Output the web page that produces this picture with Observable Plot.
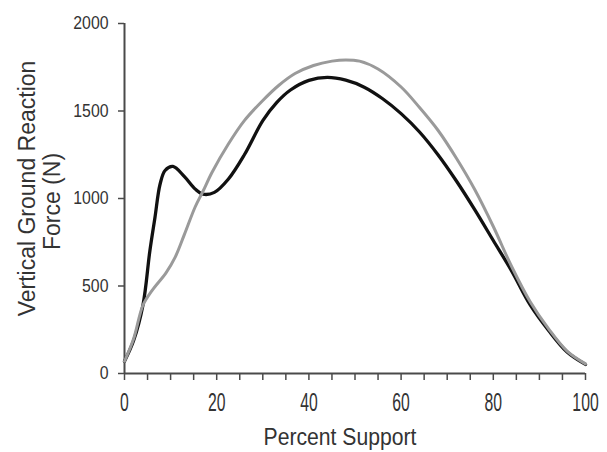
<!DOCTYPE html>
<html>
<head>
<meta charset="utf-8">
<script src="https://cdn.jsdelivr.net/npm/d3@7"></script>
<script src="https://cdn.jsdelivr.net/npm/@observablehq/plot@0.6"></script>
<style>
  html, body { margin: 0; padding: 0; background: #fff; }
  #chart svg { display: block; }
</style>
</head>
<body>
<div id="chart"></div>
<script>
// Percent of support phase (x) and vertical ground reaction force in N (y)
const darkX = [0, 2, 4, 5.5, 6.6, 7.7, 8.8, 10.5, 13, 15.3, 17, 19.5, 22.5, 26, 30, 33, 36, 40, 44, 48, 52, 56, 60, 64, 68, 72, 76, 80, 84, 88, 92, 96, 100];
const darkY = [70, 190, 390, 700, 890, 1080, 1160, 1183, 1125, 1055, 1025, 1035, 1110, 1250, 1445, 1548, 1620, 1675, 1692, 1676, 1636, 1570, 1485, 1380, 1250, 1100, 935, 760, 585, 392, 246, 123, 52];

const lightX = [0, 2, 4, 6, 9, 11, 13, 15.3, 17, 19, 22.5, 26, 30, 33.5, 37, 41, 45, 48, 51, 55, 60, 64, 68, 72, 76, 80, 84, 88, 92, 96, 100];
const lightY = [70, 200, 390, 475, 575, 665, 795, 950, 1040, 1150, 1310, 1445, 1560, 1647, 1714, 1760, 1785, 1792, 1785, 1740, 1637, 1520, 1390, 1230, 1050, 840, 610, 410, 255, 128, 55];

const xTicks = [0, 5, 10, 15, 20, 25, 30, 35, 40, 45, 50, 55, 60, 65, 70, 75, 80, 85, 90, 95, 100];
const xLabels = [0, 20, 40, 60, 80, 100];
const yTicks = [0, 500, 1000, 1500, 2000];
const xTitle = "Percent Support";
const yTitle1 = "Vertical Ground Reaction";
const yTitle2 = "Force (N)";

const dark = darkX.map((x, i) => ({x, y: darkY[i]}));
const light = lightX.map((x, i) => ({x, y: lightY[i]}));

const axisColor = "#4a4a4a";
const textColor = "#333";

const plot = Plot.plot({
  width: 607,
  height: 452,
  marginLeft: 124,
  marginRight: 22,
  marginTop: 23,
  marginBottom: 79,
  style: {fontFamily: "'Liberation Sans', Arial, sans-serif", background: "#fff"},
  x: {domain: [0, 100]},
  y: {domain: [0, 2000]},
  marks: [
    Plot.axisX({
      ticks: xTicks,
      tickSize: 7,
      tickPadding: 13,
      tickFormat: d => xLabels.includes(d) ? String(d) : "",
      fontSize: 25,
      stroke: axisColor,
      strokeWidth: 1.5,
      fill: textColor,
      label: null
    }),
    Plot.axisY({
      ticks: yTicks,
      tickSize: 6,
      tickPadding: 10,
      tickFormat: d => String(d),
      fontSize: 18,
      stroke: axisColor,
      strokeWidth: 1.5,
      fill: textColor,
      label: null
    }),
    Plot.ruleX([0], {y1: 0, y2: 2000, stroke: axisColor, strokeWidth: 2}),
    Plot.ruleY([0], {x1: 0, x2: 100, stroke: axisColor, strokeWidth: 2}),
    Plot.line(dark, {x: "x", y: "y", curve: "catmull-rom", stroke: "#111", strokeWidth: 3.3}),
    Plot.line(light, {x: "x", y: "y", curve: "catmull-rom", stroke: "#9a9a9a", strokeWidth: 3}),
    Plot.text([xTitle], {frameAnchor: "bottom", text: d => d, textAnchor: "middle", dx: -15, dy: 55, lineAnchor: "top", fontSize: 23, fill: textColor, className: "xtitle"}),
    Plot.text([yTitle1], {frameAnchor: "left", text: d => d, textAnchor: "middle", dx: -97, dy: -10, rotate: -90, lineAnchor: "middle", fontSize: 23, fill: textColor}),
    Plot.text([yTitle2], {frameAnchor: "left", text: d => d, textAnchor: "middle", dx: -72, dy: 3, rotate: -90, lineAnchor: "middle", fontSize: 23, fill: textColor, letterSpacing: 1.5})
  ]
});

document.getElementById("chart").appendChild(plot);

// horizontal condensing of glyphs, as in the reference (via textLength, positions untouched)
function condense(selector, sx) {
  plot.querySelectorAll(selector).forEach(t => {
    if (!t.textContent) return;
    const w = t.getComputedTextLength();
    if (w > 0) {
      t.setAttribute("textLength", (w * sx).toFixed(2));
      t.setAttribute("lengthAdjust", "spacingAndGlyphs");
    }
  });
}
condense('[aria-label="x-axis tick label"] text', 0.63);
condense('[aria-label="y-axis tick label"] text', 0.88);
condense('.xtitle text', 0.92);
</script>
</body>
</html>
